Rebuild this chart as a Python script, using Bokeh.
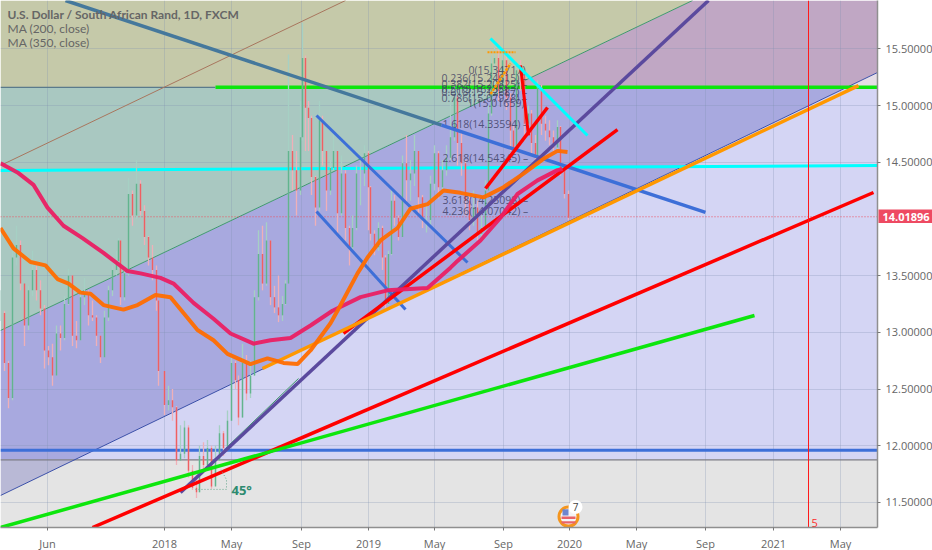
from bokeh.plotting import figure
from bokeh.models import FixedTicker, Label, Range1d
from bokeh.core.properties import value
from bokeh.embed import file_html
from bokeh.resources import INLINE

# x is a bar index of the chart's time scale, y is the USD/ZAR price
bar_x = [0,4,8,12,16,20,24,28,32,36,40,44,48,52,56,60,64,68,72,76,80,84,88,92,96,100,104,108,112,116,118,120,124,128,132,136,140,144,148,152,156,158,164,168,172,176,180,184,188,192,196,199,203,207,211,215,219,223,227,231,235,238,242,246,250,254,258,262,266,270,274,278,282,285,288,292,296,300,302,305,308,311,315,319,322,326,330,333,337,341,345,349,352,356,360,364,368,370,374,378,382,385,388,391,394,398,402,406,410,414,418,422,426,430,434,438,442,446,450,454,457,461,465,469,473,477,481,485,488,491,494,498,502,506,510,513,516,520,524,528,531,535,537,541,545,549,553,557,560,564,568]
bar_close = [13.17,12.73,12.42,13.66,13.77,13.43,13.06,13.37,13.55,13.37,13.21,12.84,12.78,12.62,12.99,12.95,13.25,13.50,12.97,12.93,13.31,13.34,13.15,13.13,12.97,12.78,13.13,13.37,13.55,13.63,13.81,13.31,13.52,14.22,14.03,14.31,14.07,13.84,13.66,13.55,13.28,12.66,12.36,12.40,12.34,11.87,11.93,12.16,11.78,11.63,11.59,11.91,11.83,11.98,11.64,11.87,12.11,11.98,12.22,12.73,12.58,12.25,12.73,12.46,12.62,13.31,13.69,13.43,13.81,13.31,13.22,13.15,13.25,13.43,14.60,14.43,14.25,14.72,15.42,14.98,14.89,14.37,14.10,14.87,14.60,14.25,14.45,14.60,14.05,14.40,13.92,13.75,13.92,14.40,14.40,14.58,14.28,13.87,13.75,13.92,13.66,13.25,13.69,14.16,14.01,13.84,14.49,14.34,14.40,14.60,14.19,13.99,13.99,14.31,14.58,14.28,14.43,14.54,14.72,15.07,14.67,14.49,14.16,13.99,14.10,13.87,13.92,14.25,14.93,15.37,15.42,15.13,15.40,15.07,14.78,14.63,15.31,15.28,14.84,14.93,14.67,14.54,15.16,14.84,14.78,14.72,14.63,14.81,14.43,14.22,14.01]
bar_high = [13.37,13.19,12.75,13.72,13.94,13.81,13.41,13.41,13.72,13.59,13.46,13.24,12.88,12.90,13.06,13.06,13.32,13.56,13.50,13.10,13.37,13.48,13.37,13.28,13.15,12.97,13.19,13.41,13.59,13.72,13.83,13.81,13.59,14.36,14.25,14.52,14.34,14.12,13.85,13.77,13.59,13.28,12.66,12.53,12.50,12.35,12.18,12.22,12.18,11.83,11.74,12.00,12.03,12.05,12.00,12.00,12.18,12.13,12.31,12.80,12.75,12.62,12.90,12.80,12.75,13.37,13.90,13.94,13.97,13.81,13.41,13.50,13.32,13.46,15.45,14.74,14.60,15.04,15.73,15.44,15.04,14.91,14.38,15.04,14.91,14.60,14.52,14.74,14.60,14.56,14.43,13.94,14.03,14.47,14.52,14.65,14.60,14.29,13.90,13.97,13.94,13.68,13.72,14.25,14.21,14.03,14.56,14.74,14.52,14.74,14.60,14.21,14.12,14.38,14.65,14.60,14.52,14.65,15.09,15.18,15.09,14.78,14.52,14.21,14.25,14.16,14.03,14.34,15.00,15.44,15.53,15.49,15.47,15.44,15.11,14.82,15.38,15.40,15.31,15.00,14.96,14.74,15.22,15.18,14.91,14.87,14.78,14.87,14.82,14.43,14.25]
bar_low = [13.10,12.66,12.33,12.40,13.59,13.37,12.88,13.02,13.32,13.28,13.15,12.68,12.71,12.53,12.62,12.84,12.93,13.24,12.88,12.86,12.93,13.24,13.06,13.10,12.88,12.73,12.78,13.10,13.32,13.50,13.59,13.24,13.28,13.50,13.94,14.00,14.03,13.77,13.59,13.46,13.19,12.53,12.27,12.31,12.22,11.83,11.87,11.89,11.72,11.61,11.54,11.59,11.78,11.80,11.62,11.65,11.87,11.91,11.96,12.22,12.50,12.18,12.25,12.40,12.42,12.62,13.28,13.37,13.41,13.24,13.17,13.09,13.10,13.24,13.63,14.25,14.03,14.21,14.69,14.60,14.60,14.21,13.94,14.07,14.47,14.07,14.21,14.43,13.85,14.03,13.81,13.59,13.72,13.90,14.12,14.29,13.90,13.81,13.68,13.72,13.55,13.19,13.24,13.68,13.94,13.81,13.85,14.12,14.16,14.29,14.03,13.92,13.88,13.94,14.25,14.18,14.25,14.38,14.52,14.69,14.47,14.38,14.03,13.90,13.94,13.81,13.81,13.90,14.25,14.91,15.13,15.04,15.09,14.96,14.60,14.60,14.60,15.13,14.69,14.78,14.56,14.52,14.54,14.74,14.69,14.65,14.60,14.60,14.38,14.18,13.99]

ma200_x = [0,17,33,47,63,82,103,127,140,160,173,193,213,230,253,270,290,310,332,360,387,427,450,457,480,500,517,537,557,562]
ma200_y = [14.49,14.41,14.30,14.10,13.94,13.83,13.70,13.54,13.52,13.48,13.43,13.26,13.12,12.99,12.90,12.93,12.95,13.06,13.19,13.31,13.37,13.39,13.57,13.63,13.81,14.01,14.22,14.34,14.43,14.44]
ma350_x = [0,13,30,45,57,68,80,90,103,123,137,155,170,183,197,213,227,250,267,283,297,310,330,337,357,367,380,397,410,427,443,460,483,503,523,543,557,567]
ma350_y = [13.92,13.74,13.62,13.59,13.47,13.43,13.35,13.34,13.24,13.20,13.24,13.33,13.31,13.17,13.02,12.93,12.81,12.72,12.77,12.73,12.72,12.84,13.08,13.19,13.52,13.66,13.81,13.92,14.09,14.13,14.25,14.23,14.19,14.28,14.40,14.53,14.60,14.59]

olive_x, olive_y = [0,692,509,0], [15.926,15.926,15.159,15.159]
mauve_x, mauve_y = [692,877,877,846,509], [15.926,15.926,15.291,15.159,15.159]
corner_x, corner_y = [846,877,877], [15.159,15.159,15.291]
teal_x, teal_y = [0,509,0], [15.159,15.159,13.016]
violet_x, violet_y = [0,509,846,75,0], [13.016,15.159,15.159,11.878,11.878]
slate_x, slate_y = [0,75,0], [11.878,11.878,11.561]
lavender_x, lavender_y = [846,877,877,75], [15.159,15.159,11.878,11.878]
grey_x, grey_y = [0,75,0,0,877,877], [11.878,11.878,11.561,11.279,11.279,11.878]

steel_up_x, steel_up_y = [65,441], [15.926,14.827]
steel_dn_x, steel_dn_y = [441,705], [14.827,14.057]
channel_up_x, channel_up_y = [316,467], [14.912,13.616]
channel_low_x, channel_low_y = [316,405], [14.065,13.201]
purple_x, purple_y = [180,708], [11.588,15.926]
red_long_x, red_long_y = [92,873], [11.279,14.233]
red_mid_x, red_mid_y = [343,617], [12.990,14.788]
red_top_x, red_top_y = [485,547], [14.268,14.982]
red_drop_x, red_drop_y = [520,528], [15.353,14.736]
orange_x, orange_y = [262,858], [12.681,15.176]
lime_x, lime_y = [0,754], [11.279,13.148]
fan_x, fan_y = [225,298], [11.976,12.593]
cyan_h_x, cyan_h_y = [0,877], [14.427,14.471]
cyan_d_x, cyan_d_y = [490,587], [15.591,14.736]
brown_x, brown_y = [0,345], [14.471,15.926]
green_thin_x, green_thin_y = [0,692], [13.016,15.926]
navy_x, navy_y = [0,877], [11.561,15.291]
level_green, level_blue, level_grey = 15.16, 11.96, 11.875
last_price = 14.01896
event_x = 808

fib_text = ["0(15.34717)","0.236(15.24615) –","0.382(15.20825) –","0.5(15.16235) –","0.618(15.12687) –","0.786(15.07928) –","1(15.01659)","1.618(14.33594) –","2.618(14.54345) –","3.618(14.25098) –","4.236(14.07042) –"]
fib_x = [468,441,441,441,441,441,467,442,442,442,442]
fib_y = [15.31,15.24,15.19,15.15,15.12,15.07,15.02,14.84,14.54,14.17,14.07]

x_ticks = [47,164,231,301,368,434,503,569,636,705,773,840]
x_labels = ["Jun","2018","May","Sep","2019","May","Sep","2020","May","Sep","2021","May"]
y_ticks = [11.5,12.0,12.5,13.0,13.5,14.5,15.0,15.5]

p = figure(width=932, height=550, frame_width=877, frame_height=527, output_backend="svg", toolbar_location=None,
           x_range=Range1d(0,877), y_range=Range1d(11.279,15.926), y_axis_location="right",
           min_border_left=0, min_border_right=0, min_border_top=0, min_border_bottom=0,
           styles={"position":"absolute","left":"0px","top":"0px"})
p.outline_line_color = None
p.background_fill_color = "#ffffff"

for xs, ys, c in [(olive_x,olive_y,"#c5c9a9"),(mauve_x,mauve_y,"#c0a7c4"),(corner_x,corner_y,"#e5dde6"),
                  (teal_x,teal_y,"#a9c8c1"),(violet_x,violet_y,"#a8a9df"),(slate_x,slate_y,"#b9b9d6"),
                  (lavender_x,lavender_y,"#d4d5f4"),(grey_x,grey_y,"#e4e4e4")]:
    p.patch(xs, ys, fill_color=c, line_color=None, level="image")

p.xaxis.ticker = FixedTicker(ticks=x_ticks)
p.xaxis.major_label_overrides = dict(zip(x_ticks, x_labels))
p.yaxis.ticker = FixedTicker(ticks=y_ticks)
p.yaxis.major_label_overrides = {t: f"{t:.5f}" for t in y_ticks}
for ax in (p.xaxis[0], p.yaxis[0]):
    ax.axis_line_color = "#8f8f8f"
    ax.axis_line_width = 1.5
    ax.major_tick_line_color = "#777777"
    ax.major_tick_in = 0
    ax.major_tick_out = 3
    ax.minor_tick_line_color = None
    ax.major_label_text_color = "#666666"
    ax.major_label_text_font = "Open Sans"
    ax.major_label_text_font_size = "11px"
    ax.major_label_standoff = 5
for g in (p.xgrid[0], p.ygrid[0]):
    g.grid_line_color = "#7f8fb0"
    g.grid_line_alpha = 0.28
    g.grid_line_width = 1

# levels and thin drawings under the price
p.line([0,877],[level_grey,level_grey], line_color="#7a7a84", line_width=1.2)
p.line([0,215],[level_green,level_green], line_color="#5a7a8c", line_width=1.2)
p.line(brown_x, brown_y, line_color="#a8765e", line_width=1)
p.line(green_thin_x, green_thin_y, line_color="#3f9a6c", line_width=1)
p.line(navy_x, navy_y, line_color="#3a4fa8", line_width=1)
p.line(fan_x, fan_y, line_color="#3f9a6c", line_width=1)
p.line([215,877],[level_green,level_green], line_color="#0ce60c", line_width=3.5)
p.line([0,877],[level_blue,level_blue], line_color="#3d6fd8", line_width=3)
p.line(cyan_h_x, cyan_h_y, line_color="#00ffff", line_width=3)
p.line([0,877],[last_price,last_price], line_color="#ef5060", line_width=1, line_dash="1 2")

# price bars
opens = [bar_close[0]] + bar_close[:-1]
for i in range(len(bar_x)):
    up = bar_close[i] >= opens[i]
    p.segment(bar_x[i], bar_low[i], bar_x[i], bar_high[i], line_color="#a6d0c4" if up else "#efb0b8", line_width=1.3)
for i in range(len(bar_x)):
    up = bar_close[i] >= opens[i]
    p.segment(bar_x[i], opens[i], bar_x[i], bar_close[i], line_color="#62b48e" if up else "#ef5f62", line_width=1.4)

# fib labels
p.text(fib_x, fib_y, text=fib_text, text_font=value("Open Sans"), text_font_size="10.5px", text_color="#3a3a60", text_alpha=0.8, text_baseline="middle")

for xs, ys, c, w, a in [(steel_up_x,steel_up_y,"#45789c",3.5,1),(steel_dn_x,steel_dn_y,"#3d6fd8",3.5,1),(channel_up_x,channel_up_y,"#3d6fd8",3,1),(channel_low_x,channel_low_y,"#3d6fd8",3,1),
                     (purple_x,purple_y,"#5b4a9e",3.5,1),(red_long_x,red_long_y,"#ff0000",3.5,1),(red_mid_x,red_mid_y,"#ff0000",3.5,1),
                     (red_top_x,red_top_y,"#ff0000",3.5,1),(red_drop_x,red_drop_y,"#ff0000",3,1),(orange_x,orange_y,"#ff9800",3.5,1),
                     (lime_x,lime_y,"#0ce60c",3.5,1),(cyan_d_x,cyan_d_y,"#00ffff",3,1)]:
    p.line(xs, ys, line_color=c, line_width=w, line_alpha=a)
p.line(ma200_x, ma200_y, line_color="#ea1f63", line_width=4, line_alpha=0.95)
p.line(ma350_x, ma350_y, line_color="#ff6d00", line_width=4, line_alpha=0.95)
p.line([808,808],[11.279,15.926], line_color="#ff1a1a", line_width=1)
p.line([487,515],[15.47,15.47], line_color="#ff9800", line_width=2, line_dash="2 1")
p.line([490,510],[15.10,15.37], line_color="#ff9800", line_width=2.5, line_dash="3 1")

# 45 degree marker
p.line([195,226,226,220],[11.615,11.615,11.70,11.80], line_color="#6aa890", line_width=1, line_dash="1 2")
p.text([231],[11.61], text=["45°"], text_font=value("Open Sans"), text_font_size="13px", text_font_style="bold", text_color="#2e8b70", text_baseline="middle")
p.text([811],[11.32], text=["5"], text_font=value("Open Sans"), text_font_size="11px", text_color="#ff2a2a", text_baseline="middle")

# earnings badge
p.scatter([568],[11.375], size=19, fill_color="#f4f4f6", line_color="#f4951e", line_width=3)
p.quad(left=[562],right=[568],bottom=[11.385],top=[11.44], fill_color="#6f86cf", line_color=None)
p.quad(left=[561,561],right=[575,575],bottom=[11.355,11.315],top=[11.375,11.335], fill_color="#e8636a", line_color=None)
p.scatter([575],[11.46], size=14, fill_color="#ffffff", line_color=None)
p.text([575],[11.46], text=["7"], text_font=value("Open Sans"), text_font_size="10px", text_color="#444444", text_align="center", text_baseline="middle")

for txt, y, st in [("U.S. Dollar / South African Rand, 1D, FXCM", 15.80, "bold"), ("MA (200, close)", 15.68, "normal"), ("MA (350, close)", 15.555, "normal")]:
    p.add_layout(Label(x=7, y=y, text=txt, text_font="Lato", text_font_size="12px", text_font_style=st, text_color="#666666", text_baseline="middle"))

# last-price tag sitting on the price scale
tag = figure(width=55, height=14, output_backend="svg", toolbar_location=None, x_range=Range1d(0,1), y_range=Range1d(0,1),
             min_border=0, styles={"position":"absolute","left":"878px","top":"209px"})
tag.axis.visible = False
tag.grid.visible = False
tag.outline_line_color = None
tag.background_fill_color = "#ee4a62"
tag.border_fill_color = "#ee4a62"
tag.text([0.5],[0.5], text=[f"{last_price:.5f}"], text_font=value("Open Sans"), text_font_size="11px", text_font_style="bold", text_color="#ffffff", text_align="center", text_baseline="middle")

open("out.html", "w").write(file_html([p, tag], INLINE))
